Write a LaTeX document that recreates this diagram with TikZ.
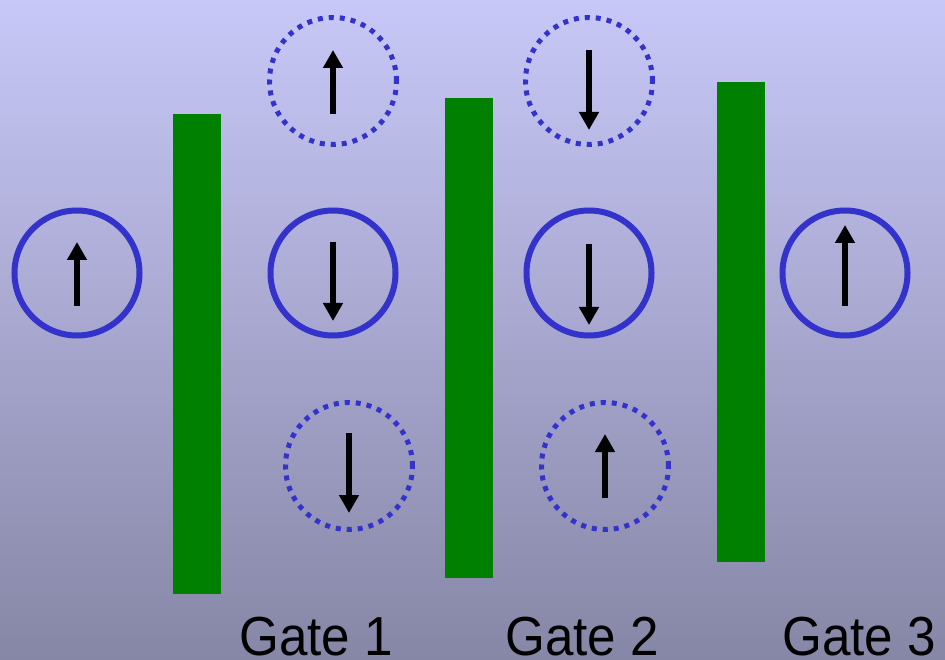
\documentclass[tikz,border=0pt]{standalone}
\usepackage{fontspec}
\setmainfont{Liberation Sans}[FakeStretch=0.93]
\usetikzlibrary{arrows.meta}
\definecolor{bgtop}{HTML}{C8C8F8}
\definecolor{bgbot}{HTML}{8686A6}
\definecolor{spinblue}{HTML}{3333CC}
\definecolor{gategreen}{HTML}{008000}
\tikzset{
  spin/.style={circle, draw=spinblue, line width=6pt, minimum size=125pt, inner sep=0pt},
  spinmaybe/.style={circle, draw=spinblue, line width=5pt, minimum size=127pt, inner sep=0pt,
    dash pattern=on 5pt off 6pt},
  spinarrow/.style={line width=6.5pt, -{Triangle[width=19pt,length=18pt]}},
  gatebar/.style={fill=gategreen, draw=none},
  gatelabel/.style={anchor=base, inner sep=0pt, text depth=0pt, font=\fontsize{55}{60}\selectfont}
}
\begin{document}
\begin{tikzpicture}[x=1pt, y=-1pt]
  % backdrop
  \shade[top color=bgtop, bottom color=bgbot] (0,0) rectangle (945,660);
  \useasboundingbox (0,0) rectangle (945,660);

  % gates
  \fill[gatebar] (173,114) rectangle (221,594);
  \fill[gatebar] (445,98) rectangle (493,578);
  \fill[gatebar] (717,82) rectangle (765,562);

  % spin states
  \node[spin] (in) at (77,273) {};
  \node[spinmaybe] (t1) at (333,81) {};
  \node[spin] (m1) at (333,273) {};
  \node[spinmaybe] (b1) at (349,466) {};
  \node[spinmaybe] (t2) at (589,81) {};
  \node[spin] (m2) at (589,273) {};
  \node[spinmaybe] (b2) at (605,466) {};
  \node[spin] (out) at (845,273) {};

  % spin directions
  \coordinate (inA) at (77,306);  \coordinate (inB) at (77,242);
  \coordinate (t1A) at (333,114); \coordinate (t1B) at (333,50);
  \coordinate (m1A) at (333,242); \coordinate (m1B) at (333,321);
  \coordinate (b1A) at (349,433); \coordinate (b1B) at (349,513);
  \coordinate (t2A) at (589,50);  \coordinate (t2B) at (589,130);
  \coordinate (m2A) at (589,244); \coordinate (m2B) at (589,325);
  \coordinate (b2A) at (605,498); \coordinate (b2B) at (605,434);
  \coordinate (outA) at (845,306); \coordinate (outB) at (845,225);
  \foreach \s in {in,t1,m1,b1,t2,m2,b2,out}
    \draw[spinarrow] (\s A) -- (\s B);

  % labels
  \node[gatelabel] (g1) at (316,655) {Gate 1};
  \node[gatelabel] (g2) at (582,655) {Gate 2};
  \node[gatelabel] (g3) at (859,655) {Gate 3};
\end{tikzpicture}
\end{document}
